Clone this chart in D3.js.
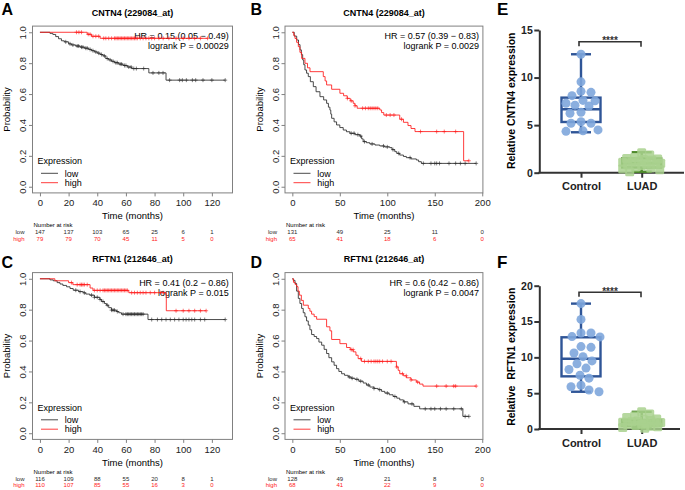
<!DOCTYPE html>
<html><head><meta charset="utf-8">
<script src="https://cdn.jsdelivr.net/npm/d3@7"></script>
<style>body{margin:0;background:#fff}svg{display:block;font-family:"Liberation Sans",Arial,Helvetica,sans-serif}</style>
</head><body>
<svg id="c" width="685" height="490"></svg>
<script>
// ---------------- DATA ----------------
const probTicks = [0, 0.2, 0.4, 0.6, 0.8, 1.0];
const monthTicksA = [0, 20, 40, 60, 80, 100, 120];
const monthTicksB = [0, 50, 100, 150, 200];

// Panel A  CNTN4 (229084_at), 120-month cohort
const aLowSteps = [[7,0.993],[9,0.986],[11,0.972],[13,0.958],[15,0.945],[17,0.938],[20,0.925],[22,0.918],[25,0.911],[28,0.904],[31,0.897],[34,0.889],[36,0.881],[38,0.873],[40,0.865],[42,0.856],[44,0.847],[46,0.830],[48,0.821],[50,0.812],[52,0.803],[55,0.794],[58,0.785],[61,0.775],[64,0.765],[76,0.737],[88,0.690]];
const aLowCensor = [18,21,23,26,27,29,30,32,33,35,37,39,41,43,45,47,49,51,53,54,56,57,59,60,62,63.6,65.5,67.3,72.4,78.9,83,85.9,90.5,97.5,99.4,102.2,106.4,108.7,113.8,120,129.3];
const aHighSteps = [[33,0.987],[36,0.974],[42,0.961]];
const aHighCensor = [25.5,27.2,29,33.7,35,37,39,41,44.5,46,48,50,52,53,54,55,56,57,58,59,60,61,62,63,64,65,66,67,68,70,72,74,76,78,80,83,86,90,95,100,104,108,112,117];
const aRiskLow = [147,137,103,65,25,6,1];
const aRiskHigh = [79,79,70,45,11,5,0];

// Panel B  CNTN4 (229084_at), 200-month cohort
const bLowSteps = [[2,0.975],[4.6,0.95],[6.5,0.92],[8.1,0.886],[9.5,0.855],[10.9,0.821],[12,0.79],[13.3,0.756],[15,0.735],[16.8,0.713],[19,0.68],[22.1,0.648],[25,0.615],[29.1,0.583],[33,0.562],[36.1,0.540],[38,0.515],[39.6,0.496],[40.5,0.47],[41.4,0.443],[44,0.42],[46.6,0.40],[50,0.383],[53.6,0.367],[57,0.356],[60.6,0.346],[66,0.337],[71.1,0.328],[73,0.31],[74.6,0.292],[78,0.285],[81.6,0.277],[87,0.27],[92.1,0.264],[97,0.258],[102.6,0.253],[105,0.24],[107.9,0.227],[110,0.216],[113.1,0.205],[117,0.196],[120.1,0.188],[125,0.18],[130.6,0.173],[133,0.162],[135.9,0.151]];
const bLowCensor = [62,65,69,72,76,84,96,100,106,112,124,138,146,150,152,155,165,172,177,182,193.6];
const bHighSteps = [[1.5,0.98],[2.8,0.96],[4.5,0.935],[6.3,0.907],[8,0.87],[9.8,0.831],[13.3,0.799],[16,0.77],[18.6,0.745],[32.6,0.713],[34.5,0.685],[36.1,0.659],[41.4,0.631],[50.1,0.605],[54,0.589],[57.8,0.572],[61,0.556],[64.1,0.540],[66,0.524],[68.3,0.508],[92.1,0.497],[94,0.48],[96.3,0.464],[113.1,0.437],[117,0.417],[121.8,0.396],[125,0.377],[129.2,0.357],[180.4,0.168]];
const bHighCensor = [58,62,66,74,77,80,82,84,86,88,90,99,103,107,115,135,152,160,172,185.9];
const bRiskLow = [131,49,25,11,0];
const bRiskHigh = [65,41,18,6,0];

// Panel C  RFTN1 (212646_at), 120-month cohort
const cLowSteps = [[7,0.993],[9.3,0.987],[12,0.975],[14,0.966],[16,0.957],[18.6,0.948],[21,0.937],[23.2,0.926],[27,0.917],[30.2,0.909],[32,0.901],[34.8,0.894],[38,0.880],[41.8,0.866],[43,0.853],[45,0.84],[46.4,0.829],[48,0.813],[49.9,0.797],[53.4,0.788],[55,0.78],[56.9,0.771],[75.4,0.736]];
const cLowCensor = [25,28,31,36,38,40,42,44,47,50,51,52,54,58,60,61,62,63,64,65,66,67,68,69,70,71,72,78,82,85,88,91,94,97,100,102,104,106,108,112,115,129.3];
const cHighSteps = [[10.4,0.987],[20,0.975],[23,0.962],[35,0.940],[37,0.925],[62,0.910],[88.2,0.793]];
const cHighCensor = [22,26,28,29,30,31,33,38,40,42,44,45,46,47,48,49,50,51,52,53,54,55,56,57,58,59,60,61,64,66,68,70,72,74,77,80,84,86,95,100,104,108,112,116];
const cRiskLow = [116,109,88,55,20,8,1];
const cRiskHigh = [110,107,85,55,16,3,0];

// Panel D  RFTN1 (212646_at), 200-month cohort
const dLowSteps = [[1,0.99],[2.8,0.970],[4.5,0.92],[6.3,0.873],[8,0.84],[9.8,0.808],[11.5,0.78],[13.3,0.754],[15,0.727],[16.8,0.700],[18.5,0.67],[20.3,0.639],[23,0.626],[25.6,0.613],[28,0.59],[30.9,0.570],[33.5,0.543],[36.1,0.516],[38.5,0.489],[41.4,0.462],[44,0.44],[46.6,0.418],[49,0.40],[51.9,0.385],[55,0.375],[58.9,0.364],[62,0.356],[65.9,0.349],[70,0.337],[74.6,0.325],[78,0.312],[81.6,0.299],[86,0.29],[90.4,0.282],[94,0.271],[97.4,0.260],[102,0.249],[106.1,0.238],[110,0.227],[113.1,0.216],[117,0.203],[121.8,0.190],[128,0.174],[134.1,0.158],[179.6,0.109]];
const dLowCensor = [60,63,68,72,80,86,92,100,108,118,126,140,146,150,156,162,170,178,182,185.9];
const dHighSteps = [[1.2,0.977],[3,0.963],[4.6,0.949],[6,0.92],[7.4,0.894],[9.5,0.86],[11.6,0.829],[16.8,0.808],[18.5,0.79],[20.3,0.771],[23,0.755],[25.6,0.738],[36.1,0.689],[39.6,0.663],[41.4,0.607],[50.1,0.580],[57.1,0.555],[61,0.541],[64.1,0.527],[67,0.505],[69.3,0.483],[72.8,0.465],[109.6,0.429],[111.5,0.407],[113.1,0.385],[117,0.372],[120.1,0.359],[125,0.345],[130.6,0.331],[134,0.318],[137.6,0.305]];
const dHighCensor = [62,64,72,76,80,83,86,88,90,92,95,100,104,110,116,120,125,132,152,162,170,172,193.6];
const dRiskLow = [128,49,21,8,0];
const dRiskHigh = [68,41,22,9,0];

// Panels E / F  qPCR box plots
const groups = ["Control", "LUAD"];
const eTicks = [0, 5, 10, 15];
const fTicks = [0, 5, 10, 15, 20];
const eControl = [12.45, 9.55, 8.55, 8.45, 8.1, 7.6, 7.55, 7.3, 7.1, 7.0, 6.35, 6.25, 5.35, 5.2, 5.2, 4.5, 4.4, 4.35];
const eLUAD = [2.1, 1.85, 1.6, 1.5, 1.45, 1.4, 1.3, 1.2, 1.15, 1.1, 1.0, 0.95, 0.9, 0.8, 0.75, 0.6, 0.5, 0.4, 0.3, 0.1];
const eControlBox = [4.25, 5.33, 6.67, 7.89, 12.45]; // min, q1, median, q3, max
const eLUADBox = [0.1, 0.55, 1.0, 1.5, 2.15];
const fControl = [17.5, 15.3, 13.4, 13.4, 12.9, 12.85, 11.5, 11.4, 10.6, 10.1, 9.5, 9.1, 8.5, 8.3, 7.5, 7.1, 6.1, 5.9, 5.45, 5.2];
const fLUAD = [2.4, 2.1, 1.8, 1.6, 1.4, 1.3, 1.2, 1.1, 1.0, 0.95, 0.9, 0.85, 0.8, 0.7, 0.6, 0.5, 0.4, 0.3, 0.2, 0.1];
const fControlBox = [5.2, 7.35, 9.8, 12.8, 17.5];
const fLUADBox = [0.1, 0.45, 0.9, 1.25, 2.4];

// ---------------- DRAWING ----------------
const svg = d3.select("#c");
const FONT = '"Liberation Sans",Arial,Helvetica,sans-serif';
const LOWC = "#2a2a2a", HIGHC = "#ff1a1a", FRAME = "#808080";

function survAt(steps, t) { let s = 1; for (const [tt, ss] of steps) { if (tt <= t) s = ss; else break; } return s; }

function kmPanel(c) {
  const g = svg.append("g");
  const x = d3.scaleLinear().domain(c.xDomain).range(c.xRange);
  const y = d3.scaleLinear().domain([-0.04, 1.04]).range([192.9 + c.oy, 26.1 + c.oy]);
  const L = c.xRange[0], R = c.xRange[1], T = y(1.04), B = y(-0.04);
  const cx = (L + R) / 2;
  svg.append("text").attr("x", c.letterX).attr("y", c.letterY).attr("font-size", 16).attr("font-weight", "bold").text(c.letter);
  g.append("text").attr("x", cx).attr("y", T - 10.6).attr("text-anchor", "middle").attr("font-size", 9).attr("font-weight", "bold").text(c.title);
  g.append("rect").attr("x", L).attr("y", T).attr("width", R - L).attr("height", B - T).attr("fill", "none").attr("stroke", FRAME).attr("stroke-width", 1);
  const ya = g.append("g").attr("transform", `translate(${L},0)`).call(d3.axisLeft(y).tickValues(probTicks).tickSize(3.5).tickFormat(d3.format(".1f")));
  ya.select(".domain").remove();
  ya.selectAll("line").attr("stroke", FRAME);
  ya.selectAll("text").attr("font-family", FONT).attr("font-size", 9.5).attr("fill", "#222")
    .attr("text-anchor", "middle").attr("x", null)
    .attr("transform", `translate(-9.5,0) rotate(-90)`).attr("dy", "0.35em");
  const xa = g.append("g").attr("transform", `translate(0,${B})`).call(d3.axisBottom(x).tickValues(c.xTicks).tickSize(3.5));
  xa.select(".domain").remove();
  xa.selectAll("line").attr("stroke", FRAME);
  xa.selectAll("text").attr("font-family", FONT).attr("font-size", 9.5).attr("fill", "#222").attr("y", 13.4).attr("dy", null);
  g.append("text").attr("transform", `translate(${L - 25.5},${(T + B) / 2}) rotate(-90)`).attr("text-anchor", "middle").attr("dy", "0.35em").attr("font-size", 9.5).text("Probability");
  g.append("text").attr("x", cx).attr("y", B + 26.4).attr("text-anchor", "middle").attr("font-size", 9.5).text("Time (months)");
  g.append("text").attr("x", R - 3.8).attr("y", T + 13.1).attr("text-anchor", "end").attr("font-size", 9).text(c.hr);
  g.append("text").attr("x", R - 3.8).attr("y", T + 22.9).attr("text-anchor", "end").attr("font-size", 9).text(c.p);
  const line = d3.line().x(d => x(d[0])).y(d => y(d[1])).curve(d3.curveStepAfter);
  for (const s of [c.low, c.high]) {
    const pts = [[0, 1], ...s.steps, [d3.max(s.censor), s.steps[s.steps.length - 1][1]]];
    g.append("path").attr("d", line(pts)).attr("fill", "none").attr("stroke", s.color).attr("stroke-width", 0.85);
    g.append("path").attr("d", s.censor.map(t => {
      const px = x(t), py = y(survAt(s.steps, t));
      return `M${px - 2},${py}h4M${px},${py - 2}v4`;
    }).join("")).attr("fill", "none").attr("stroke", s.color).attr("stroke-width", 0.6);
  }
  g.append("text").attr("x", L + 5).attr("y", B - 28.7).attr("font-size", 9).text("Expression");
  [["low", LOWC, -19.6], ["high", HIGHC, -10.2]].forEach(([lab, col, dy]) => {
    g.append("line").attr("x1", L + 8.5).attr("x2", L + 25.5).attr("y1", B + dy).attr("y2", B + dy).attr("stroke", col).attr("stroke-width", 0.85);
    g.append("text").attr("x", L + 32.3).attr("y", B + dy + 3.2).attr("font-size", 9).text(lab);
  });
  g.append("text").attr("x", L + 1).attr("y", B + 34.2).attr("font-size", 6).text("Number at risk");
  [["low", c.riskLow, LOWC, 41.2], ["high", c.riskHigh, HIGHC, 47.9]].forEach(([lab, arr, col, dy]) => {
    g.append("text").attr("x", L - 8).attr("y", B + dy).attr("text-anchor", "end").attr("font-size", 6).attr("fill", col).text(lab);
    g.selectAll(null).data(arr).enter().append("text")
      .attr("x", (d, i) => x(c.xTicks[i])).attr("y", B + dy).attr("text-anchor", "middle").attr("font-size", 6).attr("fill", col).text(d => d);
  });
}

const aX = { xDomain: [-5.2, 134.4], xRange: [32.5, 232.5], xTicks: monthTicksA };
const bX = { xDomain: [-7.72, 200.7], xRange: [285, 482.9], xTicks: monthTicksB };

kmPanel({ ...aX, oy: 0, letter: "A", letterX: 1.5, letterY: 14.5, title: "CNTN4 (229084_at)",
  hr: "HR = 0.15 (0.05 \u2212 0.49)", p: "logrank P = 0.00029",
  low: { steps: aLowSteps, censor: aLowCensor, color: LOWC }, high: { steps: aHighSteps, censor: aHighCensor, color: HIGHC },
  riskLow: aRiskLow, riskHigh: aRiskHigh });
kmPanel({ ...bX, oy: 0, letter: "B", letterX: 250.5, letterY: 15, title: "CNTN4 (229084_at)",
  hr: "HR = 0.57 (0.39 \u2212 0.83)", p: "logrank P = 0.0029",
  low: { steps: bLowSteps, censor: bLowCensor, color: LOWC }, high: { steps: bHighSteps, censor: bHighCensor, color: HIGHC },
  riskLow: bRiskLow, riskHigh: bRiskHigh });
kmPanel({ ...aX, oy: 246.5, letter: "C", letterX: 1.5, letterY: 268.3, title: "RFTN1 (212646_at)",
  hr: "HR = 0.41 (0.2 \u2212 0.86)", p: "logrank P = 0.015",
  low: { steps: cLowSteps, censor: cLowCensor, color: LOWC }, high: { steps: cHighSteps, censor: cHighCensor, color: HIGHC },
  riskLow: cRiskLow, riskHigh: cRiskHigh });
kmPanel({ ...bX, oy: 246.5, letter: "D", letterX: 250.5, letterY: 268.3, title: "RFTN1 (212646_at)",
  hr: "HR = 0.6 (0.42 \u2212 0.86)", p: "logrank P = 0.0047",
  low: { steps: dLowSteps, censor: dLowCensor, color: LOWC }, high: { steps: dHighSteps, censor: dHighCensor, color: HIGHC },
  riskLow: dRiskLow, riskHigh: dRiskHigh });

// ---- box plots ----
function swarm(vals, ys, cx, d, maxOff) {
  const placed = [], out = [];
  const idx = vals.map((v, i) => i).sort((a, b) => vals[b] - vals[a]);
  for (const i of idx) {
    const yy = ys(vals[i]);
    let best = null, bestScore = -1, bestX = cx;
    for (let k = 0; k <= maxOff * 2; k++) {
      const off = (k % 2 ? 1 : -1) * Math.ceil(k / 2);
      const xx = cx + off;
      const md = placed.length ? d3.min(placed, p => Math.hypot(p[0] - xx, p[1] - yy)) : Infinity;
      if (md >= d) { best = xx; break; }
      if (md > bestScore) { bestScore = md; bestX = xx; }
    }
    if (best === null) best = bestX;
    placed.push([best, yy]); out[i] = [best, yy];
  }
  return out;
}

function boxPanel(c) {
  const g = svg.append("g");
  const y = d3.scaleLinear().domain([0, c.ymax]).range(c.yRange);
  const x = d3.scalePoint().domain(groups).range([581, 641.7]);
  const AX = 539.3, AXC = "#333";
  svg.append("text").attr("x", 497).attr("y", c.letterY).attr("font-size", 17).attr("font-weight", "bold").text(c.letter);
  const ya = g.append("g").attr("transform", `translate(${AX},0)`).call(d3.axisLeft(y).tickValues(c.ticks).tickSize(5).tickSizeOuter(0));
  ya.select(".domain").attr("stroke", AXC).attr("stroke-width", 2);
  ya.selectAll(".tick line").attr("stroke", AXC).attr("stroke-width", 2);
  ya.selectAll("text").attr("font-family", FONT).attr("font-size", 10.5).attr("font-weight", "bold").attr("fill", "#222").attr("x", -6.5);
  g.append("line").attr("x1", AX - 1).attr("x2", c.xEnd).attr("y1", y(0)).attr("y2", y(0)).attr("stroke", AXC).attr("stroke-width", 2);
  const xa = g.append("g").attr("transform", `translate(0,${y(0)})`).call(d3.axisBottom(x).tickSize(5));
  xa.select(".domain").remove();
  xa.selectAll(".tick line").attr("stroke", AXC).attr("stroke-width", 2);
  xa.selectAll("text").attr("font-family", FONT).attr("font-size", 11).attr("font-weight", "bold").attr("fill", "#222").attr("dy", "0.71em").attr("y", 10);
  g.append("text").attr("transform", `translate(511.7,${c.labelY}) rotate(-90)`).attr("text-anchor", "middle").attr("dy", "0.35em")
    .attr("font-size", 10.5).attr("font-weight", "bold").style("white-space", "pre").text(c.ylabel);
  const specs = [
    { grp: "Control", box: c.ctrlBox, vals: c.ctrl, stroke: "#2f5597", fill: "#7ea6dc", shape: "circle" },
    { grp: "LUAD", box: c.luadBox, vals: c.luad, stroke: "#4e8a2c", fill: "#a9d18e", shape: "square" }
  ];
  for (const s of specs) {
    const cx = x(s.grp), [mn, q1, md, q3, mx] = s.box, bw = 39, cw = 20;
    const bg = g.append("g").attr("stroke", s.stroke).attr("stroke-width", 2.4).attr("fill", "none");
    bg.append("line").attr("x1", cx).attr("x2", cx).attr("y1", y(mx)).attr("y2", y(q3));
    bg.append("line").attr("x1", cx).attr("x2", cx).attr("y1", y(q1)).attr("y2", y(mn));
    bg.append("line").attr("x1", cx - cw / 2).attr("x2", cx + cw / 2).attr("y1", y(mx)).attr("y2", y(mx));
    bg.append("line").attr("x1", cx - cw / 2).attr("x2", cx + cw / 2).attr("y1", y(mn)).attr("y2", y(mn));
    bg.append("rect").attr("x", cx - bw / 2).attr("y", y(q3)).attr("width", bw).attr("height", y(q1) - y(q3)).attr("fill", "#fff");
    bg.append("line").attr("x1", cx - bw / 2).attr("x2", cx + bw / 2).attr("y1", y(md)).attr("y2", y(md));
    const pos = s.shape === "circle" ? swarm(s.vals, y, cx, 9.2, 19) : swarm(s.vals, y, cx, 8, 19);
    if (s.shape === "circle") {
      g.selectAll(null).data(pos).enter().append("circle").attr("cx", d => d[0]).attr("cy", d => d[1]).attr("r", 4.5)
        .attr("fill", s.fill).attr("fill-opacity", 0.9);
    } else {
      g.selectAll(null).data(pos).enter().append("rect").attr("x", d => d[0] - 4.5).attr("y", d => d[1] - 4.5).attr("width", 9).attr("height", 9)
        .attr("rx", 1.5).attr("fill", s.fill).attr("fill-opacity", 0.85);
    }
  }
  const x1 = 579, x2 = 641;
  g.append("path").attr("d", `M${x1},${c.brY + 4.5}V${c.brY}H${x2}V${c.brY + 5}`).attr("fill", "none").attr("stroke", "#333").attr("stroke-width", 1.6);
  g.append("text").attr("x", (x1 + x2) / 2).attr("y", c.brY + 2.6).attr("text-anchor", "middle").attr("font-size", 10).attr("font-weight", "bold").attr("fill", "#333").text("****");
}

boxPanel({ letter: "E", letterY: 15.2, ymax: 15, yRange: [172.7, 30], ticks: eTicks, xEnd: 684, labelY: 100.8, brY: 41.7,
  ylabel: "Relative CNTN4 expression", ctrl: eControl, luad: eLUAD, ctrlBox: eControlBox, luadBox: eLUADBox });
boxPanel({ letter: "F", letterY: 268.3, ymax: 20, yRange: [429, 285.7], ticks: fTicks, xEnd: 680, labelY: 356.7, brY: 292.3,
  ylabel: "Relative  RFTN1 expression", ctrl: fControl, luad: fLUAD, ctrlBox: fControlBox, luadBox: fLUADBox });
</script>
</body></html>
